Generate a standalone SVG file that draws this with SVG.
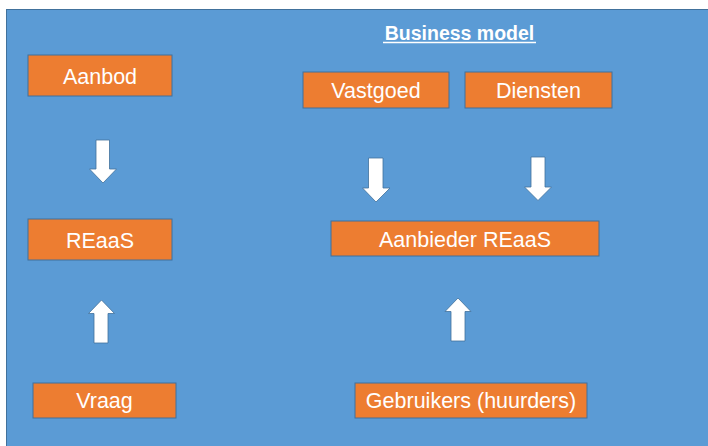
<svg xmlns="http://www.w3.org/2000/svg" width="708" height="446" viewBox="0 0 708 446">
<style>
.bg{fill:#5B9BD5;stroke:#41719C;stroke-width:1}
.box{fill:#ED7D31;stroke:#41719C;stroke-width:1}
.lbl{font-family:"Liberation Sans",Arial,sans-serif;font-size:21.5px;fill:#FFFFFF;text-anchor:middle}
.title{font-family:"Liberation Sans",Arial,sans-serif;font-size:19.5px;font-weight:bold;fill:#FFFFFF;text-anchor:middle}
.arr{fill:#FFFFFF;stroke:#41719C;stroke-width:0.8}
</style>
<rect width="708" height="446" fill="#FFFFFF"/>
<rect class="bg" x="6.5" y="9.5" width="710" height="445"/>
<g id="title">
<text class="title" x="459.5" y="39.5">Business model</text>
<line x1="383" y1="42.5" x2="536" y2="42.5" stroke="#FFFFFF" stroke-width="1.5"/>
</g>
<g id="aanbod"><rect class="box" x="28" y="55" width="144" height="41"/><text class="lbl" x="100" y="83.5">Aanbod</text></g>
<g id="reaas"><rect class="box" x="28" y="219" width="144" height="41"/><text class="lbl" x="100" y="247.5">REaaS</text></g>
<g id="vraag"><rect class="box" x="33" y="383" width="143" height="35"/><text class="lbl" x="104.5" y="408">Vraag</text></g>
<g id="vastgoed"><rect class="box" x="303" y="72" width="146" height="36"/><text class="lbl" x="376" y="97.5">Vastgoed</text></g>
<g id="diensten"><rect class="box" x="465" y="72" width="147" height="36"/><text class="lbl" x="538.5" y="97.5">Diensten</text></g>
<g id="aanbieder"><rect class="box" x="331" y="221" width="268" height="35"/><text class="lbl" x="465" y="246.5">Aanbieder REaaS</text></g>
<g id="gebruikers"><rect class="box" x="355" y="383" width="232" height="35"/><text class="lbl" x="471" y="408">Gebruikers (huurders)</text></g>
<g id="connectors">
<polygon class="arr" points="96,140 109.5,140 109.5,169 116.5,169 103,183 89.5,169 96,169"/>
<polygon class="arr" points="94,343 108,343 108,313.5 114.5,313.5 101.5,300 88.5,313.5 94,313.5"/>
<polygon class="arr" points="368.5,158 383,158 383,188 390,188 376,202 362.5,188 368.5,188"/>
<polygon class="arr" points="531,157 545,157 545,187 551.5,187 538,200.5 524.5,187 531,187"/>
<polygon class="arr" points="451,341 465,341 465,311.5 471,311.5 458,298 445,311.5 451,311.5"/>
</g>
</svg>
